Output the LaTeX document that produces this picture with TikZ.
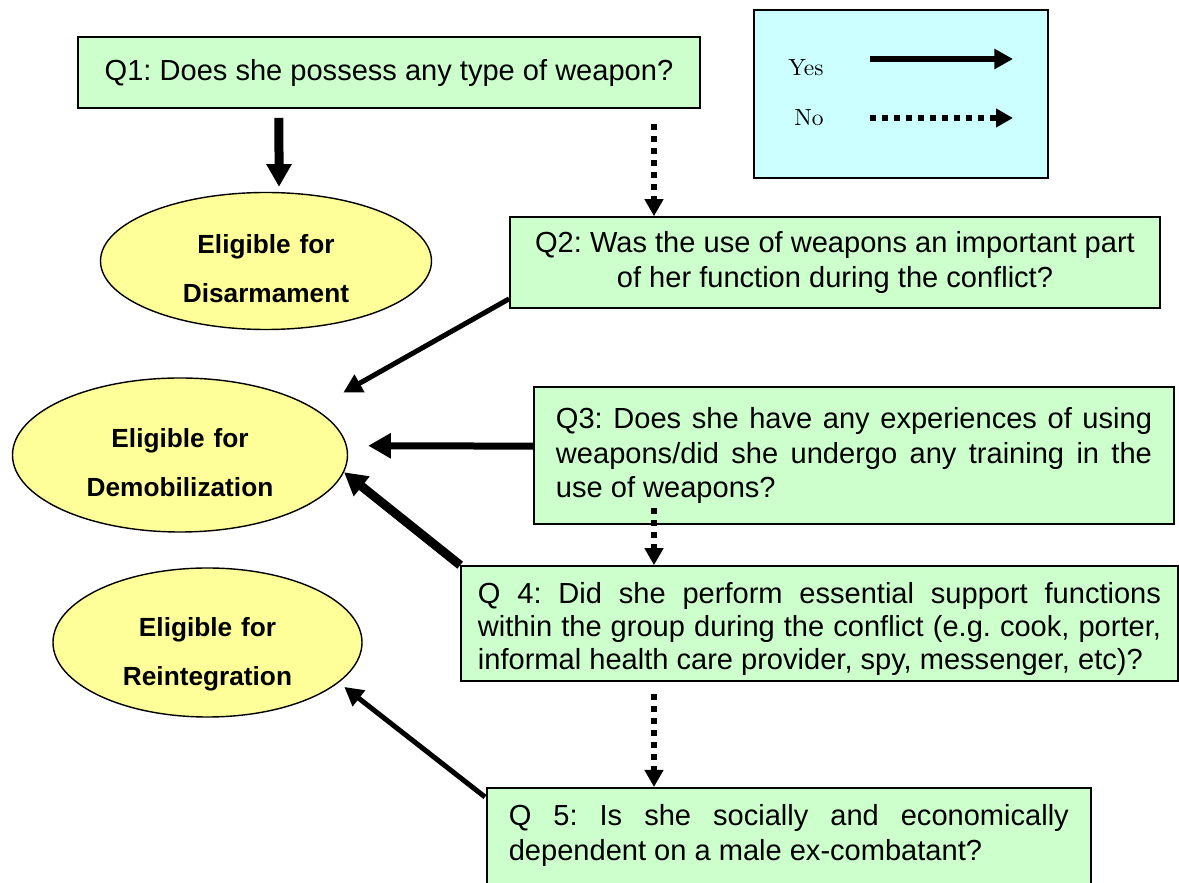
\documentclass[tikz,border=0pt]{standalone}
\usepackage{fontspec}
\newfontfamily\arialfont{Liberation Sans}
\usepackage{tikz}
\usetikzlibrary{shapes, arrows.meta, positioning}
\definecolor{mygreen}{RGB}{204, 255, 204}
\definecolor{myyellow}{RGB}{255, 255, 153}
\definecolor{mycyan}{RGB}{204, 255, 255}
\tikzset{
  qbox/.style = {draw, fill = mygreen, line width = 0.7pt, inner sep = 0pt,
    font = \arialfont\frenchspacing\fontsize{12.4}{14.7}\selectfont},
  eligible/.style = {draw, ellipse, fill = myyellow, line width = 0.6pt, inner sep = 0pt,
    align = center, text width = 3cm, font = \arialfont\bfseries\fontsize{11.2}{20.9}\selectfont},
  yesarrow/.style = {-{Triangle[length = 0.34cm, width = 0.36cm]}, line width = #1},
  yesarrow/.default = 0.135cm,
  yesthin/.style = {-{Triangle[length = 0.28cm, width = 0.29cm]}, line width = #1},
  yesthin/.default = 0.075cm,
  noarrow/.style = {-{Triangle[length = 0.255cm, width = 0.27cm]}, line width = 0.09cm,
    dash pattern = on 0.09cm off 0.09cm}
}
\begin{document}
\begin{tikzpicture}[x = 0.015cm, y = -0.015cm]

\useasboundingbox (0, 0) rectangle (1179, 883); % page size

% questions
\node[qbox, minimum width = 9.33cm, minimum height = 1.065cm] (q1) at (389, 72.5)
  {Q1: Does she possess any type of weapon?};
\node[qbox, align = center, minimum width = 9.75cm, minimum height = 1.365cm] (q2) at (835, 262.5)
  {Q2: Was the use of weapons an important part\\ of her function during the conflict?};
\node[qbox, align = justify, text width = 8.94cm, minimum width = 9.6cm, minimum height = 2.055cm] (q3) at (854, 455.5)
  {Q3: Does she have any experiences of using\linebreak weapons/did she undergo any training in the\linebreak use of weapons?};
\node[qbox, align = justify, text width = 10.245cm, minimum width = 10.755cm, minimum height = 1.725cm,
  font = \arialfont\frenchspacing\fontsize{12.4}{14}\selectfont, text height = 0.48cm] (q4) at (819.5, 623.5)
  {Q 4: Did she perform essential support functions\linebreak within the group during the conflict (e.g. cook, porter,\linebreak informal health care provider, spy, messenger, etc)?};
\node[qbox, anchor = north west, inner xsep = 0.33cm, inner ysep = 0.255cm, text depth = 1.5cm] (q5) at (486, 787)
  {\parbox[t]{8.4cm}{Q 5: Is she socially and economically\linebreak dependent on a male ex-combatant?}\hspace{0.75cm}};

% outcomes
\node[eligible, minimum width = 4.965cm, minimum height = 2.055cm, text height = 0.525cm] (dis) at (266, 261) {Eligible for\\ Disarmament};
\node[eligible, minimum width = 5.025cm, minimum height = 2.31cm, text height = 0.5cm] (demob) at (180, 455) {Eligible for\\ Demobilization};
\node[eligible, minimum width = 4.635cm, minimum height = 2.235cm, text height = 0.645cm] (reint) at (207.5, 642.5) {Eligible for\\ Reintegration};

% legend
\node[draw, fill = mycyan, line width = 0.9pt, minimum width = 4.41cm, minimum height = 2.52cm] (legend) at (901, 94) {};
\node[font = \fontsize{10}{12}\selectfont] (yes) at (806, 67.5) {Yes};
\node[font = \fontsize{10}{12}\selectfont] (no) at (809, 117.5) {No};
\coordinate (yesA) at (870, 59);
\coordinate (yesB) at (1013, 59);
\coordinate (noA) at (870, 118);
\coordinate (noB) at (1013, 118);
\draw[yesthin = 0.09cm] (yesA) -- (yesB);
\draw[noarrow] (noA) -- (noB);

% yes
\draw[yesarrow, shorten <= 0.135cm, shorten >= 0.075cm] ([xshift = -1.65cm]q1.south) -- ([xshift = 0.195cm]dis.north);
\draw[yesthin, shorten >= 0.49cm] ([yshift = 0.15cm]q2.south west) -- (demob.19);
\draw[yesarrow = 0.105cm, shorten >= 0.3cm] ([yshift = 0.14cm]q3.west) -- ([yshift = 0.14cm]demob.east);
\draw[yesarrow] (q4.north west) -- (demob.-6);
\draw[yesthin, shorten >= 0.105cm] ([shift = {(-0.015cm, -0.15cm)}]q5.north west) -- (reint.-17);

% no
\coordinate (spine) at (654, 0);
\draw[noarrow, shorten <= 0.225cm] (q1.south -| spine) -- (q2.north -| spine);
\draw[noarrow, shorten <= -0.255cm] (q3.south -| spine) -- (q4.north -| spine);
\draw[noarrow, shorten <= 0.18cm] (q4.south -| spine) -- (q5.north -| spine);

\end{tikzpicture}
\end{document}
